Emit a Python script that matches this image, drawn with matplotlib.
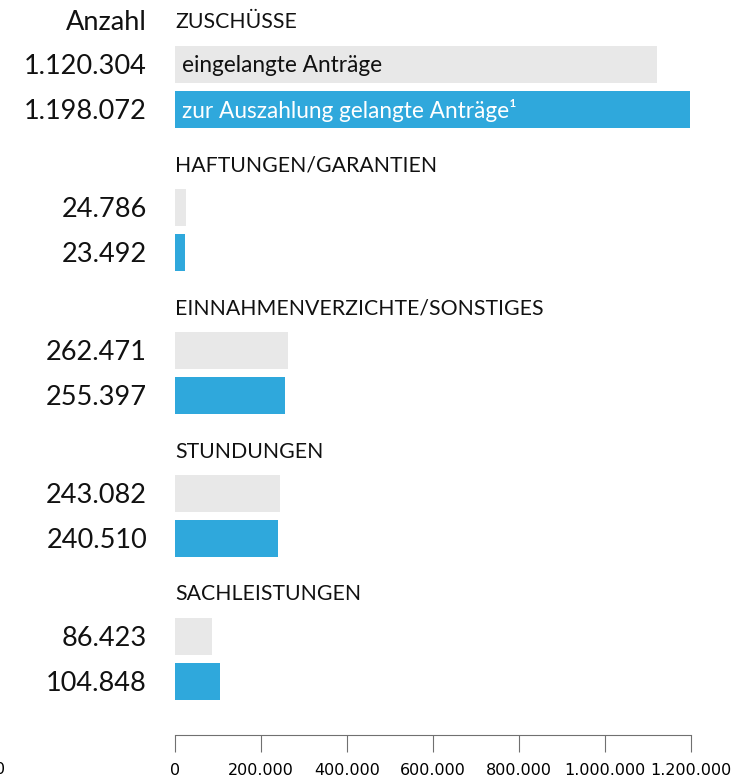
import numpy as np
import matplotlib
matplotlib.use("Agg")
import matplotlib.pyplot as plt

# Daten
kategorien = ["ZUSCHÜSSE", "HAFTUNGEN/GARANTIEN", "EINNAHMENVERZICHTE/SONSTIGES",
              "STUNDUNGEN", "SACHLEISTUNGEN"]
eingelangt = [1120304, 24786, 262471, 243082, 86423]
ausgezahlt = [1198072, 23492, 255397, 240510, 104848]
ticks = [0, 200000, 400000, 600000, 800000, 1000000, 1200000]


def fmt(v):
    return f"{v:,}".replace(",", ".")


plt.rcParams['font.family'] = ['Lato', 'DejaVu Sans']

W, H = 734, 781
fig = plt.figure(figsize=(W / 100, H / 100), dpi=100)
ax = fig.add_axes([175 / W, 0, 516 / W, 1])
ax.set_xlim(0, 1200000)
ax.set_ylim(H, 0)

grau = '#e8e8e8'
blau = '#2fa8dc'
abstand = 143
hoehe = 37

for i, kat in enumerate(kategorien):
    y1 = 64.5 + abstand * i
    y2 = y1 + 45
    ax.barh(y1, eingelangt[i], height=hoehe, color=grau)
    ax.barh(y2, ausgezahlt[i], height=hoehe, color=blau)
    ax.annotate(kat, xy=(0, y1 - 43), xytext=(0, -1), textcoords='offset pixels',
                ha='left', va='center', fontsize=15.3, color='#111111')
    ax.annotate(fmt(eingelangt[i]), xy=(0, y1), xytext=(-28, -2), textcoords='offset pixels',
                ha='right', va='center', fontsize=19.5, color='#111111')
    ax.annotate(fmt(ausgezahlt[i]), xy=(0, y2), xytext=(-28, -2), textcoords='offset pixels',
                ha='right', va='center', fontsize=19.5, color='#111111')
    if i == 0:
        ax.annotate("Anzahl", xy=(0, y1 - 43), xytext=(-28, -1), textcoords='offset pixels',
                    ha='right', va='center', fontsize=19.5, color='#111111')
        ax.annotate("eingelangte Anträge", xy=(0, y1), xytext=(7, -1), textcoords='offset pixels',
                    ha='left', va='center', fontsize=16.3, color='#111111')
        ax.annotate("zur Auszahlung gelangte Anträge¹", xy=(0, y2), xytext=(7, -1),
                    textcoords='offset pixels', ha='left', va='center', fontsize=16.3,
                    color='white')

# Achse unten
for s in ['top', 'right', 'left']:
    ax.spines[s].set_visible(False)
ax.spines['bottom'].set_position(('data', 734.5))
ax.spines['bottom'].set_color('#707070')
ax.set_yticks([])
ax.set_xticks(ticks)
ax.set_xticklabels([fmt(t) for t in ticks], family=['Liberation Sans Narrow', 'DejaVu Sans'],
                   fontsize=11.5)
ax.tick_params(axis='x', direction='out', length=12.5, color='#707070', pad=8)

fig.text(0, 1 - 770 / H, "0", ha='center', va='center', fontsize=11.5,
         family=['Liberation Sans Narrow', 'DejaVu Sans'])

fig.savefig("out.png", dpi=100)
